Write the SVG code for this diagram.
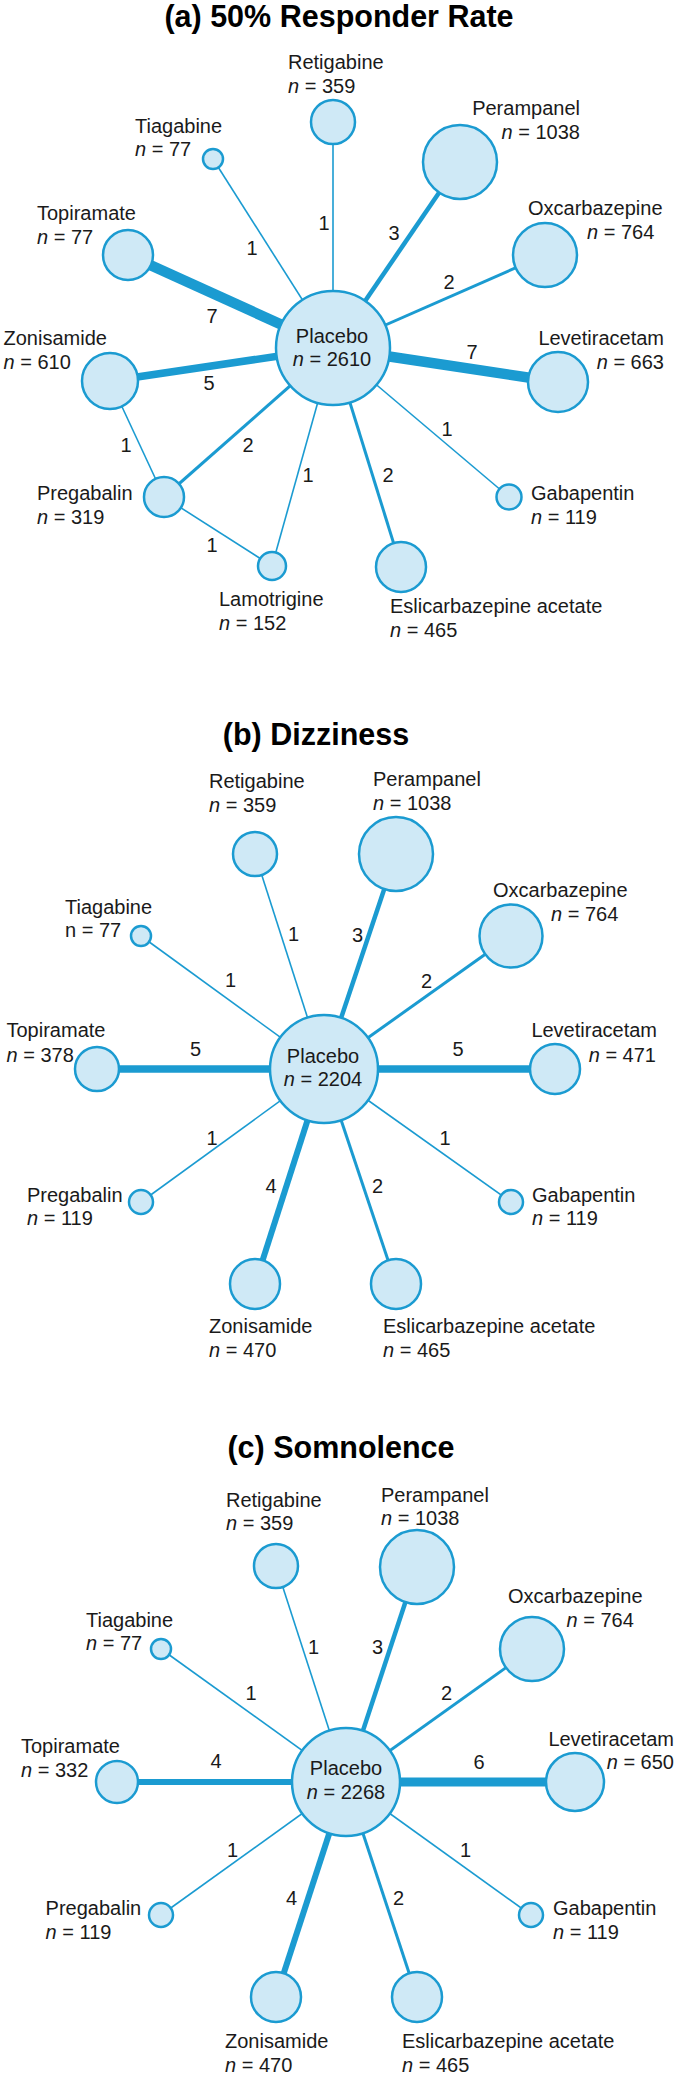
<svg xmlns="http://www.w3.org/2000/svg" width="675" height="2077" viewBox="0 0 675 2077">
<style>
text{font-family:"Liberation Sans",Arial,Helvetica,sans-serif;font-size:20px;fill:#1a1a1a}
.t{font-weight:bold;font-size:30.5px;text-anchor:middle;fill:#000}
.m{text-anchor:middle}
.e{text-anchor:end}
.i{font-style:italic}
.nd{fill:#cfe9f6;stroke:#1b9bd1;stroke-width:2.5}
.ed line{stroke:#1b9bd1}
.w1{stroke-width:1.6}.w2{stroke-width:3}.w3{stroke-width:4.5}.w4{stroke-width:6}.w5{stroke-width:7.5}.w6{stroke-width:9}.w7{stroke-width:10.5}
</style>
<rect width="675" height="2077" fill="#fff"/>

<text class="t" x="339" y="27">(a) 50% Responder Rate</text>
<text class="t" x="316" y="745">(b) Dizziness</text>
<text class="t" x="341" y="1458">(c) Somnolence</text>

<g id="connectors" class="ed">
<!-- panel a -->
<line class="w1" x1="333" y1="348" x2="333" y2="122"/>
<line class="w1" x1="333" y1="348" x2="213" y2="159"/>
<line class="w3" x1="333" y1="348" x2="460" y2="162"/>
<line class="w2" x1="333" y1="348" x2="545" y2="255"/>
<line class="w7" x1="333" y1="348" x2="128" y2="255"/>
<line class="w5" x1="333" y1="348" x2="110" y2="381"/>
<line class="w7" x1="333" y1="348" x2="558" y2="382"/>
<line class="w2" x1="333" y1="348" x2="164" y2="497"/>
<line class="w1" x1="333" y1="348" x2="272" y2="566"/>
<line class="w2" x1="333" y1="348" x2="401" y2="567"/>
<line class="w1" x1="333" y1="348" x2="509" y2="497"/>
<line class="w1" x1="110" y1="381" x2="164" y2="497"/>
<line class="w1" x1="164" y1="497" x2="272" y2="566"/>
<!-- panel b -->
<line class="w1" x1="324" y1="1069" x2="255" y2="854"/>
<line class="w3" x1="324" y1="1069" x2="396" y2="854"/>
<line class="w2" x1="324" y1="1069" x2="511" y2="936"/>
<line class="w1" x1="324" y1="1069" x2="141" y2="936"/>
<line class="w5" x1="324" y1="1069" x2="97" y2="1069"/>
<line class="w5" x1="324" y1="1069" x2="555" y2="1069"/>
<line class="w1" x1="324" y1="1069" x2="141" y2="1202"/>
<line class="w1" x1="324" y1="1069" x2="511" y2="1202"/>
<line class="w4" x1="324" y1="1069" x2="255" y2="1284"/>
<line class="w2" x1="324" y1="1069" x2="396" y2="1284"/>
<!-- panel c -->
<line class="w1" x1="346" y1="1782" x2="276" y2="1566"/>
<line class="w3" x1="346" y1="1782" x2="417" y2="1567"/>
<line class="w2" x1="346" y1="1782" x2="532" y2="1649"/>
<line class="w1" x1="346" y1="1782" x2="161" y2="1649"/>
<line class="w4" x1="346" y1="1782" x2="117" y2="1782"/>
<line class="w6" x1="346" y1="1782" x2="575" y2="1782"/>
<line class="w1" x1="346" y1="1782" x2="161" y2="1915"/>
<line class="w1" x1="346" y1="1782" x2="531" y2="1915"/>
<line class="w4" x1="346" y1="1782" x2="276" y2="1997"/>
<line class="w2" x1="346" y1="1782" x2="417" y2="1997"/>
</g>

<g id="edge-labels" class="m">
<text class="m" x="324" y="230">1</text>
<text class="m" x="252" y="255">1</text>
<text class="m" x="394" y="240">3</text>
<text class="m" x="449" y="289">2</text>
<text class="m" x="212" y="323">7</text>
<text class="m" x="209" y="390">5</text>
<text class="m" x="472" y="359">7</text>
<text class="m" x="248" y="452">2</text>
<text class="m" x="308" y="482">1</text>
<text class="m" x="388" y="482">2</text>
<text class="m" x="447" y="436">1</text>
<text class="m" x="126" y="452">1</text>
<text class="m" x="212" y="552">1</text>

<text class="m" x="293.5" y="941">1</text>
<text class="m" x="357.5" y="942">3</text>
<text class="m" x="426.5" y="988">2</text>
<text class="m" x="230.5" y="987">1</text>
<text class="m" x="195.5" y="1056">5</text>
<text class="m" x="458" y="1056">5</text>
<text class="m" x="212" y="1145">1</text>
<text class="m" x="445" y="1145">1</text>
<text class="m" x="271" y="1193">4</text>
<text class="m" x="377.6" y="1193">2</text>

<text class="m" x="313.5" y="1654">1</text>
<text class="m" x="377.6" y="1654">3</text>
<text class="m" x="446.5" y="1700">2</text>
<text class="m" x="251" y="1700">1</text>
<text class="m" x="216" y="1768">4</text>
<text class="m" x="479" y="1769">6</text>
<text class="m" x="232.6" y="1857">1</text>
<text class="m" x="465.6" y="1857">1</text>
<text class="m" x="291.6" y="1905">4</text>
<text class="m" x="398.5" y="1905">2</text>
</g>

<!-- ===== panel a nodes ===== -->
<g id="a-placebo"><circle class="nd" cx="333" cy="348" r="57"/><text class="m" x="332" y="343">Placebo</text><text class="m" x="332" y="366"><tspan class="i">n</tspan> = 2610</text></g>
<g id="a-retigabine"><circle class="nd" cx="333" cy="122" r="22"/><text x="288" y="69">Retigabine</text><text x="288" y="93"><tspan class="i">n</tspan> = 359</text></g>
<g id="a-tiagabine"><circle class="nd" cx="213" cy="159" r="10"/><text x="135" y="133">Tiagabine</text><text x="135" y="156"><tspan class="i">n</tspan> = 77</text></g>
<g id="a-perampanel"><circle class="nd" cx="460" cy="162" r="37"/><text class="e" x="580" y="115">Perampanel</text><text class="e" x="580" y="139"><tspan class="i">n</tspan> = 1038</text></g>
<g id="a-oxcarbazepine"><circle class="nd" cx="545" cy="255" r="32"/><text x="528" y="215">Oxcarbazepine</text><text x="587" y="239"><tspan class="i">n</tspan> = 764</text></g>
<g id="a-topiramate"><circle class="nd" cx="128" cy="255" r="25"/><text x="37" y="220">Topiramate</text><text x="37" y="244"><tspan class="i">n</tspan> = 77</text></g>
<g id="a-zonisamide"><circle class="nd" cx="110" cy="381" r="28"/><text x="3.5" y="345">Zonisamide</text><text x="3.5" y="369"><tspan class="i">n</tspan> = 610</text></g>
<g id="a-levetiracetam"><circle class="nd" cx="558" cy="382" r="30"/><text class="e" x="664" y="345">Levetiracetam</text><text class="e" x="664" y="369"><tspan class="i">n</tspan> = 663</text></g>
<g id="a-pregabalin"><circle class="nd" cx="164" cy="497" r="20"/><text x="37" y="500">Pregabalin</text><text x="37" y="524"><tspan class="i">n</tspan> = 319</text></g>
<g id="a-lamotrigine"><circle class="nd" cx="272" cy="566" r="14"/><text x="219" y="606">Lamotrigine</text><text x="219" y="630"><tspan class="i">n</tspan> = 152</text></g>
<g id="a-eslicarbazepine"><circle class="nd" cx="401" cy="567" r="25"/><text x="390" y="613">Eslicarbazepine acetate</text><text x="390" y="637"><tspan class="i">n</tspan> = 465</text></g>
<g id="a-gabapentin"><circle class="nd" cx="509" cy="497" r="12.5"/><text x="531" y="500">Gabapentin</text><text x="531" y="524"><tspan class="i">n</tspan> = 119</text></g>

<!-- ===== panel b nodes ===== -->
<g id="b-placebo"><circle class="nd" cx="324" cy="1069" r="54"/><text class="m" x="323" y="1063">Placebo</text><text class="m" x="323" y="1086"><tspan class="i">n</tspan> = 2204</text></g>
<g id="b-retigabine"><circle class="nd" cx="255" cy="854" r="22"/><text x="209" y="788">Retigabine</text><text x="209" y="812"><tspan class="i">n</tspan> = 359</text></g>
<g id="b-perampanel"><circle class="nd" cx="396" cy="854" r="37"/><text x="373" y="786">Perampanel</text><text x="373" y="810"><tspan class="i">n</tspan> = 1038</text></g>
<g id="b-oxcarbazepine"><circle class="nd" cx="511" cy="936" r="31.5"/><text x="493" y="897">Oxcarbazepine</text><text x="551" y="921"><tspan class="i">n</tspan> = 764</text></g>
<g id="b-tiagabine"><circle class="nd" cx="141" cy="936" r="10"/><text x="65" y="914">Tiagabine</text><text x="65" y="937">n = 77</text></g>
<g id="b-topiramate"><circle class="nd" cx="97" cy="1069" r="22"/><text x="6.5" y="1037">Topiramate</text><text x="6.5" y="1062"><tspan class="i">n</tspan> = 378</text></g>
<g id="b-levetiracetam"><circle class="nd" cx="555" cy="1069" r="25"/><text class="e" x="657" y="1037">Levetiracetam</text><text class="e" x="656" y="1062"><tspan class="i">n</tspan> = 471</text></g>
<g id="b-pregabalin"><circle class="nd" cx="141" cy="1202" r="12"/><text x="27" y="1202">Pregabalin</text><text x="27" y="1225"><tspan class="i">n</tspan> = 119</text></g>
<g id="b-gabapentin"><circle class="nd" cx="511" cy="1202" r="12"/><text x="532" y="1202">Gabapentin</text><text x="532" y="1225"><tspan class="i">n</tspan> = 119</text></g>
<g id="b-zonisamide"><circle class="nd" cx="255" cy="1284" r="25"/><text x="209" y="1333">Zonisamide</text><text x="209" y="1357"><tspan class="i">n</tspan> = 470</text></g>
<g id="b-eslicarbazepine"><circle class="nd" cx="396" cy="1284" r="25"/><text x="383" y="1333">Eslicarbazepine acetate</text><text x="383" y="1357"><tspan class="i">n</tspan> = 465</text></g>

<!-- ===== panel c nodes ===== -->
<g id="c-placebo"><circle class="nd" cx="346" cy="1782" r="54"/><text class="m" x="346" y="1775">Placebo</text><text class="m" x="346" y="1799"><tspan class="i">n</tspan> = 2268</text></g>
<g id="c-retigabine"><circle class="nd" cx="276" cy="1566" r="22"/><text x="226" y="1507">Retigabine</text><text x="226" y="1530"><tspan class="i">n</tspan> = 359</text></g>
<g id="c-perampanel"><circle class="nd" cx="417" cy="1567" r="37"/><text x="381" y="1502">Perampanel</text><text x="381" y="1525"><tspan class="i">n</tspan> = 1038</text></g>
<g id="c-oxcarbazepine"><circle class="nd" cx="532" cy="1649" r="32"/><text x="508" y="1603">Oxcarbazepine</text><text x="566.5" y="1627"><tspan class="i">n</tspan> = 764</text></g>
<g id="c-tiagabine"><circle class="nd" cx="161" cy="1649" r="10"/><text x="86" y="1627">Tiagabine</text><text x="86" y="1650"><tspan class="i">n</tspan> = 77</text></g>
<g id="c-topiramate"><circle class="nd" cx="117" cy="1782" r="21"/><text x="21" y="1753">Topiramate</text><text x="21" y="1777"><tspan class="i">n</tspan> = 332</text></g>
<g id="c-levetiracetam"><circle class="nd" cx="575" cy="1782" r="29"/><text class="e" x="674" y="1746">Levetiracetam</text><text class="e" x="674" y="1769"><tspan class="i">n</tspan> = 650</text></g>
<g id="c-pregabalin"><circle class="nd" cx="161" cy="1915" r="12"/><text x="45.6" y="1915">Pregabalin</text><text x="45.6" y="1939"><tspan class="i">n</tspan> = 119</text></g>
<g id="c-gabapentin"><circle class="nd" cx="531" cy="1915" r="12"/><text x="553" y="1915">Gabapentin</text><text x="553" y="1939"><tspan class="i">n</tspan> = 119</text></g>
<g id="c-zonisamide"><circle class="nd" cx="276" cy="1997" r="25"/><text x="225" y="2048">Zonisamide</text><text x="225" y="2072"><tspan class="i">n</tspan> = 470</text></g>
<g id="c-eslicarbazepine"><circle class="nd" cx="417" cy="1997" r="25"/><text x="402" y="2048">Eslicarbazepine acetate</text><text x="402" y="2072"><tspan class="i">n</tspan> = 465</text></g>
</svg>
